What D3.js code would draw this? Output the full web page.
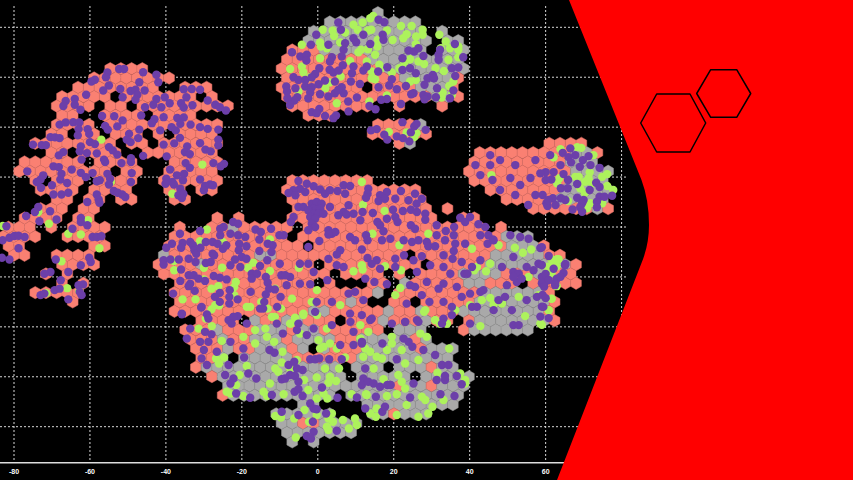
<!DOCTYPE html>
<html><head><meta charset="utf-8"><style>html,body{margin:0;padding:0;background:#000;overflow:hidden}</style>
<script src="https://cdn.jsdelivr.net/npm/d3@7"></script></head><body><svg id="c" width="853" height="480"></svg>
<script>
const xTicks=[-80,-60,-40,-20,0,20,40,60,80];
const yTicks=[80,60,40,20,0,-20,-40,-60,-80];
const hexRows=[
"35g","30-38g","29-39g 41g","28-39g 41-42g","27-29s 30-39g 41-43g","26-33s 34-42g",
"10-13s 26-35s 36-43g","8-15s 26-36s 37-41g 42s","7-14s 17-19s 26-33s 35-38s 39-41g 42s",
"5-9s 11-17s 19s 26-39s 40-41g 42s","5-8s 10-11s 13-21s 27-34s 37s 41s","5-6s 9-12s 14-17s 28-30s",
"5-8s 10-20s 35-38s 39g","4-5s 7-8s 10-12s 14s 16-19s 34-39s","3-10s 12-13s 15-20s 37s 38g 51-54s",
"4-5s 7-10s 13-19s 44-52s 53-54g 55s","2-7s 9-12s 16-20s 44-52s 53-55g","1-9s 11-12s 15-19s 43-52s 53-56g",
"3s 5-7s 9-12s 15-20s 27-34s 44-52s 53-56g","3-6s 8-11s 15-16s 18-19s 26-38s 45-51s 52-56g",
"5-6s 8-9s 11-12s 16-17s 27-39s 47-51s 52-56g","3-5s 7-8s 27-39s 41s 49-54s 55g 56s",
"2-5s 7-8s 20s 22s 27-40s 43-44s","0-2s 4s 6-9s 16s 19-20s 21g 22-26s 28-44s 46s",
"0-3s 6-9s 16-26s 28-46s 47-49g","0-1s 8-9s 15-27s 29-46s 47-49g 50s",
"1-2s 5-8s 15g 16-23s 24-25g 26-37s 39-45s 46-50g 51-52s","5-8s 14-17s 18g 19-28s 30-38s 40-44s 45-52g 53s",
"4s 6s 15-30s 32-35s 37s 39-42s 43-46g 47-49s 50-51g 52-53s","5s 7s 16-28s 30s 34-35s 37g 38-42s 43-44g 45-47s 49-53s",
"3-7s 16-34s 35g 37-44s 45-50g 51s","6s 16-31s 32g 33s 36-37s 39-43s 44-50g 51s",
"16-28s 29-30g 31-35s 36g 37-38s 39g 40-42s 43-50g 51s","18-21s 23g 24-25s 26-27g 28-30s 32-34s 35g 36-38s 39g 40-41s 43s 44-50g 51s",
"17-19s 20g 21-23s 24-26g 27s 28-29g 30-35s 37-39g 43s 44-49g","17-19s 20g 21-22s 23-25g 26s 27-30g 31-32s 33-37g 38s 39g",
"18-20s 21g 22-23s 24-26g 27s 28g 30g 31-33s 34-38g 39s 40-42g","18-19s 20g 22-26g 27-32s 33-41g",
"18s 19-31g 33-35g 37-39g 40s 41-42g","19s 20-31g 33-37g 39-43g","21-36g 37s 38-39g 40s 41-43g",
"20s 21-30g 32-42g","28-29g 34-42g","25-30g 34-35g 36s 37-39g","26-27g 28-29s 30-33g","26-29g 30-32g","27g 29g"
];
const purplePts=[
[-55.4,61.9],[-55.8,60],[-58.7,59],[-59.6,58.3],[-52.3,63.3],[-51,63.3],[-46,62],[-42.5,61],[-42,58],[-47,58],[-52,55.3],[-55,56.7],[-56.5,54.7],[-61,53],[-64,51.3],[-66.4,50.5],[-67,48.5],[-64,49],[-62.5,47],[-51.4,52],[-49.3,54.5],[-48,55],[-47.5,53],[-48,51],[-45.6,54.7],[-42.5,51.3],[-40.3,52],[-43.3,49],[-41.2,48],[-45.5,48],[-39,49.6],[-35.3,55.2],[-33.2,55.3],[-31,55],[-34.6,52],[-36,49.6],[-35.3,47.9],[-33,48.8],[-29,50.7],[-27,49],[-25.8,48],[-24.2,46.7],
[-56.8,44.5],[-53.6,44.4],[-51.4,42.7],[-46.5,44.7],[-43,43.2],[-43.7,41.6],[-40.6,44],[-37,43.7],[-35.3,43.9],[-36.2,41.3],[-33.5,41],[-31,40],[-29,39.3],[-26.2,39],
[-68,41],[-66.4,41.9],[-64.4,42],[-62.8,41.9],[-63,39.2],[-63.2,36.7],[-60.6,39.2],[-60.2,37.3],[-56,40.5],[-55.3,39],[-52.8,40.3],[-49.7,37.3],[-50.3,35],[-49.3,34],[-47.3,35.6],[-47,39],[-41.5,38.7],[-38.5,40],[-37.4,38.7],[-36.3,35.7],[-40.6,33],[-37.8,33.5],[-31,33.6],[-26.2,35],[-26.2,32.7],[-29.6,31],[-28.2,30.3],[-34.4,32.3],[-35,30],[-33.7,29.2],
[-70.4,36],[-69.2,35.9],[-68,35.6],[-75,33],[-72.7,32.8],[-71.6,32.8],[-62.4,32.3],[-60,34],[-58.7,33.2],[-55,32],[-54,30.7],[-52.8,29],[-67,30],[-68.2,28.7],[-62.7,30.3],[-60.8,29.6],[-58.2,29.5],[-62.2,27],[-56.3,27],[-49.2,27.6],[-46,28.5],[-39.8,28.3],
[-69.6,24.3],[-68.2,24],[-64.8,23],[-76.5,22.3],[-72.3,20.7],[-73,19],[-74,18],[-67.5,21.3],[-67.8,19],[-66,17.6],[-70,16.7],[-72.9,15.7],[-69.6,13],[-67.5,13],[-65.7,13.7],[-62.4,21.7],[-61.1,20],[-59.3,21.6],[-58.2,18.3],[-57.4,18.7],[-55.4,21.3],[-54.7,19.3],[-55,17],[-53.7,14.4],[-52.7,13.7],[-51.5,13],[-50.7,12],[-58.2,13],[-57.7,11],[-57.5,9.7],[-60.7,10],[-56,26],[-51.7,25.6],[-49.2,26],[-49,21.6],[-49.2,18],
[-73.6,8],[-74.5,6],[-70.5,6.3],[-76.8,4.4],[-73.3,2.3],[-68.8,3],[-82,0.3],[-83,-5.3],[-81.2,-4.3],[-79.9,-3.6],[-78.8,-3.5],[-77.2,-4],[-78.8,-8.5],[-83.2,-12.3],[-81.2,-13],[-64.6,-0.7],[-62.4,3.6],[-62.4,2],[-60.7,0.7],[-59.3,-4],[-58.1,-4],[-57,-3.7],[-69,-13],[-65.7,-18],[-60.2,-12.3],[-59.8,-14],[-62.4,-15.3],[-70.4,-18],[-72,-18.7],[-67.7,-21.3],[-73,-27.3],[-72,-26.7],[-69.3,-25.3],[-68,-24.7],[-63,-23.3],[-61.8,-23],[-62.7,-26],[-62.2,-27.3],[-65.7,-29],
[-38.9,23],[-37.1,20.7],[-35.2,21.3],[-35.5,18.7],[-39.9,19.3],[-40.1,17.3],[-38.3,18],[-37.9,17],[-36.2,15.3],[-36.7,12.7],[-35.4,13.3],[-35.8,11.6],[-34.8,25.6],[-33.7,23.7],[-27.5,25.6],[-25.6,24.3],[-24.7,25.3],[-31,19],[-28.4,17],[-29.7,16.4],[-30,14.7],[-27.6,16.7],
[-36.3,-2.7],[-31,-1.6],[-25.7,-0.7],[-24.8,0],[-25.7,-3.3],[-22.3,2],[-21,1.3],[-23,-2.7],[-21,-3.3],[-19.1,-4],[-16.4,-1],[-15,-2],[-12.3,-0.7],[-15.4,-5],[-10.1,-3.3],
[-39.9,-8.3],[-38.4,-6.7],[-35.6,-6.4],[-33.6,-6],[-32.9,-7.3],[-29.5,-6],[-27.7,-6],[-26.4,-6.7],[-36,-8.3],[-32.5,-9.3],[-32,-10.7],[-30.9,-8.3],[-27.7,-10.7],[-25,-8.7],[-24.1,-7.3],[-20.7,-6.7],[-20.8,-9.3],[-18.8,-7.7],[-15.4,-9.6],[-13.2,-6.7],[-11.9,-7.3],[-12.2,-10],[-10,-14.7],
[-40.6,-13.3],[-40.6,-15],[-38.8,-13],[-36.6,-13],[-34,-12.7],[-32.2,-14],[-29.5,-14.4],[-28.2,-14],[-27.3,-11.3],[-21.8,-13],[-20,-12],[-18.8,-12.7],[-13.3,-13.3],[-15.2,-15.6],[-36,-17],[-23,-15.3],[-20.4,-16],
[-36.2,-21.6],[-34,-19.3],[-32.7,-19.3],[-31.4,-20.7],[-33.6,-22.7],[-34,-23.7],[-29.7,-21.6],[-27.4,-19.6],[-25.8,-20.3],[-24,-21],[-17.4,-18.7],[-16,-18.7],[-17.4,-20.7],[-13.7,-20],[-13.2,-22.3],[-12.8,-24.7],[-9.6,-19.3],[-11.3,-25],[-9.8,-28],
[-38.1,-26.7],[-32.4,-25.6],[-30.7,-32.3],[-25.8,-26.4],[-23.2,-25.3],[-23.3,-28],[-23.3,-30.7],[-27.1,-28],[-25.8,-30],[-21.1,-29],[-17.7,-26],[-13.7,-27],[-14.1,-30],[-10.7,-32],[-35.8,-35],[-29.2,-35],[-22.2,-36],[-21.1,-35.7],[-14.4,-32.7],
[5.4,81.9],[16,83],[17.5,82],[12,77],[17.1,77],[17.3,75],[6.1,79],[9.4,75.6],[10.1,74],[7.2,73.6],[13.8,73.3],[-0.4,77],[-1.8,73],[2.8,73],[6.8,71],[6.3,68.3],[3.7,68],[3.2,66.3],[6.6,64.8],[-6.8,70],[-4.6,68.3],[-2.9,69],[-3,66.7],[0.4,63.6],[-0.7,61.3],[3.1,63],[4.1,61.9],[5.5,62.7],[9.4,64.3],[9,61.6],[12.9,64.3],[12,62.7],[15.9,62.3],[18.3,64],[-6.4,60],[-5.1,58.9],[-3.3,58.9],[-1.6,60],[1.9,58.7],[4.5,58.3],[8.7,58.3],[11.1,57.3],[-8.3,56.3],[-8.1,54.3],[-5.9,55.6],[-3.3,56.3],[-1.6,56],[0.2,57.2],[-2,53.9],[-2.5,51.6],[-5.4,52],[-6.2,50.7],[-8,51.6],[-7.3,48.9],[0.6,53.2],[2.8,52.3],[4.5,53.6],[6.3,56],[6.8,53.6],[5.4,55],[8,50.3],[10.3,51.9],[16,56],[18.8,56.7],[20.8,55.2],[19.5,59.2],[23.2,56.5],[8.1,46.3],[-1.6,46],[0.4,47.3],[-0.3,45.6],[1.9,44.5],[4.1,43.6],[4.8,44.7],[13.6,48.5],[15.2,47.2],[16.7,51],[18.2,51.3],[21.9,49.3],[25.2,53.6],[24.6,53.2],[27.8,52.9],[28.9,52.3],[28.1,51.2],[31.1,52],[31.4,55.6],[35.7,54.7],[34.8,51.6],[28.1,57],[28.9,59.6],[30.3,60.9],[30.6,59.6],[24.3,63.6],[25.8,61.6],[22.3,62.9],[22.3,67.6],[35.3,63.6],[37,63.9],[36.2,60.5],[23.9,70.7],[25.4,70.3],[26.5,71.6],[27.8,68.5],[31.8,69],[31.8,67],[32.2,71],[36.1,73.3],[38.3,68],
[14,38.7],[15.5,39.2],[22.3,42],[24.5,37.9],[25.4,40.3],[26,41.3],[28.4,38.9],[17.5,37],[18.3,35],[20.8,36.3],[22.4,35.6],[24.1,34.3],
[-5.1,18.4],[-2.9,17.3],[-1.1,16.3],[0.6,15],[-4.7,15.3],[-6.4,14.7],[-7.7,13.6],[-5.9,12.7],[-3.3,14],[1.9,13.3],[3.2,14.7],[5.2,14.4],[6.8,16.7],[8.5,16.4],[7.2,13.3],[13.3,15.3],[13.1,13.3],[12.7,11.7],[18.2,14],[16.4,12.7],[16,10.4],[17.7,11.3],[20.4,11.3],[21.9,14.4],[25.6,13.3],[23.9,10.7],[27.4,11.3],[26,9.3],[-5.1,8],[-3.8,8],[-1.6,9.3],[-.3,10],[1,9.3],[-1.1,7.3],[.6,7.3],[-2.5,6.7],[-1.1,5.3],[.2,5.3],[1.5,5.3],[-2,4],[-.7,3.3],[-1.6,1.3],[-.7,0],[-2.5,-1.3],[3.2,8],[8.1,8.7],[6.8,6],[5.4,4.7],[7.6,5],[9.4,5.3],[11.8,6],[14.5,5.6],[11.2,2.7],[15.7,2],[16.4,.7],[19.8,6.9],[22.4,6.4],[24.5,6.9],[26.1,6],[28.3,5.3],[18.2,3.3],[20.4,4],[21,2],[24.5,.7],[25.6,-.7],[28.3,2.9],[31.3,.7],[33.7,-1.6],[35.9,0],[37.5,3.7],[40.1,4],[38.8,2],[42.3,1.1],[44.1,0],[-6.4,4],[-7.1,2],[-9,-3.3],[2.8,-1.3],[3.7,-2.7],[4.6,-2],[2.8,-3],[.4,-5.6],[-2.5,-8],[8.5,-4],[9.8,-5.3],[11.6,-9],[12.7,-3.3],[13.1,-5.3],[17.3,-1.7],[16.9,-5.3],[19.1,-4.7],[22.6,-5.3],[24.8,-6],[26.5,-5.3],[28.7,-6],[29.1,-7.7],[30.9,-7.7],[31.3,-3.3],[33.5,-5.3],[35.8,-3.3],[36.2,-6.7],[38.8,-6.7],[35.8,-9.6],[42.8,-3.3],[44.9,-3.3],[46.1,-5],[44.7,-6.7],[58.6,-8.4],
[5.9,-9.3],[5,-11],[2.8,-12.8],[13.1,-12.4],[15.5,-13.3],[20.4,-12.7],[22.7,-11.3],[25.2,-13.3],[26.1,-18],[27.4,-11.7],[29.6,-15.3],[33.1,-11.3],[35.5,-12.7],[37.9,-14],[42.8,-13.3],[40.6,-16],[38.6,-18.7],[33.1,-16],[34.9,-18.7],[20.4,-16],[16.4,-16.7],[14.2,-14.7],[12.5,-20.7],[14.9,-22],[18.2,-22.9],[6.8,-16],[5,-15.3],[2.5,-21.3],[-1.1,-18],[-2.5,-14.7],[-4.7,-14.7],[-7.3,-20],[-8.6,-19.3],[-4.7,-22.7],[-2,-22.9],[-8.2,-23.3],[24.3,-23.3],[25.6,-24],[28.7,-22],[33.1,-22.7],[31.8,-24.7],[27.4,-27.3],[23.4,-30.7],[29.4,-30],[33.1,-30],[35.3,-32],[36.6,-24],[37.9,-28],[40.6,-32],[8.1,-26.7],[9.8,-26],[12,-29.3],[3.7,-30],[-.3,-30],[8.6,-38],[11.6,-35.3],[13.8,-37.3],[23,-38],[26.1,-37.3],[33.1,-36.7],[35.3,-35.3],[40.1,-38.7],[-.7,-34],
[50.7,-3.3],[53.3,-4],[55.5,-4.7],[51.5,-12],[48.5,-16],[51.5,-18],[52.9,-18.7],[55,-16],[58.1,-14.7],[56.8,-17.3],[52.4,-22],[53.7,-20.7],[59,-20],[59.9,-22],[62.9,-20.7],[65.1,-15.3],[64.7,-18.4],[62.5,-23.3],[62.1,-16.7],[46.3,-5.3],[49.8,-23.3],[51.5,-20],[49.3,-28],[47.6,-29.3],[43.6,-25.3],[42.8,-26],[46.3,-33.3],[51.1,-33.3],[57.7,-28],[55,-29.3],[59.4,-32],[51.5,-39.3],[52.9,-39.3],[40.1,-26.7],[39.4,-18.7],[41.9,-32],
[-30.6,-32],[-28.8,-36.7],[-35.8,-34.7],[-33.6,-40.7],[-29.7,-42],[-28,-43],[-34.5,-44.7],[-31,-46],[-28.8,-46],[-23.5,-37.3],[-22.2,-36],[-22.7,-38.7],[-23,-46],[-30,-49.3],[-26.6,-50],[-30.6,-52.7],[-29.2,-55.3],[-23.5,-55.3],[-19.6,-48.7],[-19.4,-52.3],[-18.7,-38.7],[-15.2,-32.7],[-10.8,-38.7],[-12.7,-49.3],[-11.4,-50.4],[-9.2,-42.7],[-2.9,-43.3],[-1.1,-40.7],[-5.1,-38.7],[-7.7,-55.3],[-6.2,-54],[-5.5,-56.7],[-7.3,-59.3],[-9.5,-61],[-8.6,-60.7],[-6,-59.7],[-4,-57.3],[-22.2,-60.7],[-23,-62.7],[-24.4,-59.3],[-18.3,-58.7],[-16.2,-60.7],[-21.5,-66.7],[-17.8,-68.4],[-12.1,-67.3],[-6.1,-66],[-5.1,-65],[-5.1,-62],[-4,-67.7],[1.1,-64.3],[5.2,-68.4],[5.9,-47.3],[9.4,-47.3],[11.6,-46.7],[-2,-53],[-.7,-53],[.4,-52.7],[3,-53],[6.3,-53],[10.3,-68.3],[11.6,-46],[12,-60.7],[11.6,-63.3],[13.3,-62],[14.7,-62.7],[16.4,-64],[18.3,-63.3],[19.2,-63.3],[12.5,-56.7],[20.8,-53],[22.6,-44.7],[23.9,-46],[24.9,-48],[27.8,-49.3],[30.9,-51.3],[32.7,-55.3],[34.4,-55.3],[31.3,-61.3],[33.5,-61.3],[33.5,-59.7],[36.6,-59.7],[37.9,-63],[32.3,-67],[36,-67.7],[25.2,-62.7],[24.3,-68.3],[15.3,-68],[12.5,-72.7],[17,-74],[17.7,-72],[-9.5,-74],[-5.1,-75.3],[-2,-70.7],[-1.1,-72.7],[-.3,-73],[2.2,-74.7],[-1.3,-78],[-1.1,-82],[-2.9,-83.7],[-1.8,-84.7],[5,-81.6],[-5.5,-41.3],[3.7,-39.3],[9.4,-42],[17,-46.7],[26.5,-38],[23,-38],[19.5,-38.7],[8.5,-34.7],[14.2,-36.7],[32.7,-38.7],
[64.5,29.7],[66.5,31.5],[67.8,28.8],[66,28],[66.7,25.9],[71.3,28.4],[69.8,26.8],[69,24.1],[71.8,24.8],[74.2,23.7],[63.9,24.8],[60,22],[62.1,22],[61.5,19],[64.7,21.2],[65.9,18.8],[68.3,17.2],[64,15.5],[65.8,15.5],[71.6,14.8],[73.3,17.7],[74.2,16],[59.2,12.8],[61.9,11.5],[64,11.5],[65.2,10.8],[68.3,11.7],[70,10.8],[69.6,9.5],[74.2,12.1],[75.5,12.1],[77.5,12.5],[73.5,10.1],[73.5,7.9],[69.1,7.9],[69.6,6.1],[67.1,7],[60.2,9.5],[60.5,8.4],[58.6,21.5],
[45.4,28.8],[48,26.8],[52,24.8],[45.4,24.8],[57.3,26.8],[61.2,28.8],[42.8,20.8],[46,18.8],[50.7,19.6],[53.3,16.8],[56,19.6],[60,18.8],[48,14.8],[52,12.8],[57.3,12.8],[60.7,10.8],[62.6,8.8],[41.5,24.8],[55.4,8.8],
[60.8,-11.6],[59,-15.2],[60,-18.8],[65.2,-14.8],[63.9,-19.9],[62.5,-22.5],[59,-22.5],[60.8,-21.2],[59.6,-23.9],[59.2,-27.2],[60,-28.5],[59,-31.9],[60.8,-36.5],[58.6,-35.9],[59,-8.1]
];
const greenPts=[
[-57,35],[-73.6,6],[-70.8,1.3],[-60.5,2.7],[-65.7,-2.7],[-62.4,-3],[-57.5,-8.5],[-67.5,-13.7],[-66,-24.5],[-71.5,-26.5],[-62.8,-25.7],[-83,0.4],[-54.5,18],[-30.4,25],[-38.3,13.3],
[-31,-5.7],[-29.2,-1],[-25,-6],[-12.6,-5],[-37.9,-13.6],[-37.8,-17.3],[-30,-16.3],[-25.2,-16.3],[-18.4,-16.3],[-17,-14.3],[-12.6,-17.6],[-21.6,-22],[-22,-24],[-28,-24.7],[-26.2,-23.7],[-11.2,-24.7],[-30,-21],[-35.6,-29],[-32.2,-29],[-26,-31.5],[-17.8,-32],[-22,-27.3],[-14.9,-30],[-13.2,-32.7],[-9.7,-32.7],[-11.3,-36],[-28,-33],[-29.5,-36.7],
[14.6,84.5],[13.8,83.6],[11.8,81.9],[9.4,81],[10.5,79],[1.3,79],[3.9,78.7],[4.3,76.5],[7.2,77.9],[13.2,78.7],[14.1,79],[18.2,78.7],[21.9,80.5],[24.7,80.5],[27.6,79],[27.6,77],[25.9,76.3],[23.4,77.2],[22.5,75.6],[19.7,74.9],[32,77],[33.7,74.3],[32.4,71.6],[34.8,71.6],[37,72.3],[37,71],[15.8,75],[15.7,72.3],[11.4,71],[13.2,71.2],[10.7,70],[-4.2,73],[0.6,73.9],[0.8,72.3],[2.4,71.6],[5.9,73.9],[7.2,73.3],[15.1,69],[0.6,67.6],[8.5,66.5],[12.9,66.3],[25.8,73.2],[24.3,67.2],[22.8,65.9],[26.5,66.3],[28,65.3],[34.4,67],[37,68],[31,63.6],[33.2,62.5],[16.2,65],[16.7,63.6],[19.5,61.9],[21.5,63.6],[-7.3,63.3],[-4.2,64.3],[-3.8,62],[-2,60],[6,60.3],[3.1,57.9],[14.2,62.3],[14.2,59.6],[15.1,59.2],[24.3,58.3],[25.8,58.9],[-5.1,54.3],[2,55.6],[5,49.6],[13.6,50.3],[18.2,52.7],[34.6,56.5],[35.7,58.3],[32.9,53.9],[32.6,51.9],[35.3,53],[25.4,36],[26,37.6],[23.4,37.9],[18.7,38.1],
[11.6,18],[11.9,8.9],[17.6,6.4],[14.4,-2.7],[29.1,-2.7],[21.5,-7.3],[40.6,-8.7],[47.6,-7.3],[51.9,-8.3],[54,-10.3],[56.2,-9],[11.6,-15.3],[11.8,-17],[9.4,-17.7],[17.7,-15.7],[21.9,-17.3],[-5,-16.3],[-.2,-25.3],[21.7,-24.4],[20.4,-27.3],[41.2,-17.3],[41.9,-16],[44.3,-17.7],[45.4,-14.7],[40.1,-31.3],[43.2,-29.3],[45.4,-28.4],[46.3,-31],[48.5,-30.7],[52.9,-28],[58.1,-27.3],[61,-16],[62.1,-13.3],[63.4,-12.9],[62.9,-15.7],[61.6,-18.4],[55.5,-20],[62.9,-23.7],[61.6,-28.7],[60.8,-33.3],[54.6,-35.7],[58.6,-38.7],[42.8,-39.7],[36.2,-33.3],[30.9,-37.3],[32.2,-38.7],[34,-38.7],[28,-34],[11.2,-39.3],[-.2,-35.3],[-3.8,-35.3],[-5.9,-36.7],[-7.1,-38.7],[-6.8,-28.7],[-1.6,-30],[5.9,-31.3],
[-31.4,-40.7],[-27.9,-39.7],[-25.3,-45.6],[-19.6,-44],[-16.5,-46.7],[-26.8,-52.7],[-24.7,-52.3],[-26,-54.7],[-18.7,-55.7],[-20.6,-59.3],[-21.5,-63.3],[-24,-66],[-23,-66.7],[-19.6,-67.7],[-14.3,-66],[-13.4,-67.7],[-12.6,-62.7],[-11.2,-56.7],[-10.4,-58],[-9.5,-54.3],[-9.3,-50],[-13.4,-44],[-13.8,-40.7],[-11.5,-46],[-16.5,-41.3],[-12.1,-36],[-7.3,-38.7],[-6,-36.3],[-3.8,-34.7],[-4.7,-42.7],[2.4,-40.7],[.2,-45.3],[1.5,-48],[3.2,-46.7],[.6,-48.7],[5,-48.7],[7.2,-52.3],[-5.5,-53.3],[-7.3,-56.7],[-.3,-60.3],[-3.6,-61.3],[1.9,-56.7],[5.6,-56.7],[3.2,-60],[2.8,-62.4],[4.8,-61.7],[-2.5,-65.3],[-9,-67],[1.5,-66.7],[2.5,-68.7],[-.3,-68.7],[8.9,-67],[12.7,-67],[18.2,-67.7],[20.8,-67],[23.4,-71.3],[27.4,-68],[28.3,-69.3],[30.2,-72],[29.1,-74.7],[33.1,-69.3],[26.5,-76],[20.8,-75.3],[15.5,-72.7],[13.8,-74.7],[15.3,-76],[-11.2,-75.7],[-9.7,-76.3],[-6.2,-76.7],[-3.5,-73.3],[-2.3,-78],[-.3,-75.3],[3.7,-74.7],[2.8,-76.7],[4,-78],[2.4,-80],[2.8,-81.3],[6.6,-77.3],[9.8,-76.7],[8.2,-80.7],[10.3,-79.3],[-5.8,-84.3],[12.5,-48.7],[13.8,-50],[12,-52],[15.5,-52],[16.9,-52.7],[14.7,-56.7],[18.2,-49.3],[22.1,-49.3],[21.2,-59.3],[23,-54.7],[26.5,-53.3],[22.1,-62],[23,-64.7],[17.3,-61],[12.9,-67.3],[28.7,-44],[27,-42.7],[19.5,-44],[19.5,-46.7],[34.6,-48.7],[31.5,-58.4],[37.5,-58.7],[38.8,-61.3],[38.8,-62.7],[28.3,-33.3],[30.9,-37.3],[32.2,-38.7],[34,-38.7],[13.3,-42],[11.2,-44.7],[-18.7,-32],[-27,-31.3],
[68.3,32],[69.4,31.7],[62.1,27.9],[63.9,31.2],[72.6,28.8],[71.6,21.9],[67.8,20.1],[68.7,20.1],[70.4,18.1],[71.3,19.5],[72.2,17.5],[76.2,21.2],[74.9,20.1],[76.2,16.4],[77.8,14.8],[70.3,13.7],[69.1,15.5],[63,17.5],[63.6,19.5],[65.9,10.4],[70.9,7.5],[74.9,9.5],[71.8,9.5],[45.7,20.8],[62,28],
[61.5,-12.9],[63,-12.9],[60.5,-15.9],[62.7,-15.9],[61.5,-17.9],[62.8,-23.6],[61.5,-28.8],[60.8,-33.5],[59,-39.2]
];
const W=853,H=480;
const x=d3.scaleLinear().domain([-80,80]).range([14,621.6]);
const y=d3.scaleLinear().domain([-80,80]).range([426.7,27.3]);
const binW=2.82,binH=3.738,binX0=-82.87,binY0=85.86;
const cells=[];
hexRows.forEach((row,r)=>row.split(" ").forEach(tok=>{
  const m=tok.match(/^(\d+)(?:-(\d+))?([sg])$/);
  const a=+m[1],b=m[2]?+m[2]:a;
  for(let n=a;n<=b;n++)cells.push({x:binX0+binW*(n+(r%2?0.5:0)),y:binY0-binH*r,t:m[3]});
}));
const svg=d3.select("#c");
svg.append("rect").attr("width",W).attr("height",H).attr("fill","#000");
const grid=svg.append("g").attr("stroke","#fff").attr("stroke-width",1).attr("stroke-dasharray","2 2").attr("opacity",.85);
grid.selectAll(".v").data(xTicks).join("line").attr("x1",d=>x(d)).attr("x2",d=>x(d)).attr("y1",6).attr("y2",461);
grid.selectAll(".h").data(yTicks).join("line").attr("x1",0).attr("x2",626).attr("y1",d=>y(d)).attr("y2",d=>y(d));
const R=6.18,hexPath=d3.range(6).map(i=>{const a=Math.PI/3*i+Math.PI/6;return [R*Math.cos(a),R*Math.sin(a)]});
const hp="M"+hexPath.map(p=>p.join(",")).join("L")+"Z";
svg.append("g").selectAll("path").data(cells).join("path").attr("d",hp)
 .attr("transform",d=>`translate(${x(d.x)},${y(d.y)})`)
 .attr("fill",d=>d.t=="s"?"#fa8072":"#a9a9a9").attr("stroke",d=>d.t=="s"?"#e0736a":"#999").attr("stroke-width",.5);
svg.append("g").attr("fill","#adf25c").selectAll("circle").data(greenPts).join("circle").attr("cx",d=>x(d[0])).attr("cy",d=>y(d[1])).attr("r",4.2);
svg.append("g").attr("fill","#6c3fa9").selectAll("circle").data(purplePts).join("circle").attr("cx",d=>x(d[0])).attr("cy",d=>y(d[1])).attr("r",4.2);
svg.append("line").attr("x1",0).attr("x2",570).attr("y1",462.7).attr("y2",462.7).attr("stroke","#ddd").attr("stroke-width",1.5);
svg.append("g").attr("opacity",.99).selectAll("text").data(xTicks.slice(0,8)).join("text").attr("x",d=>x(d)).attr("y",474)
 .attr("text-anchor","middle").attr("fill","#fff").attr("font-family","Liberation Sans").attr("font-weight","bold").attr("font-size",7).text(d=>d);
svg.append("path").attr("fill","#f00").attr("d","M569,0 L641.5,180 Q649,200 649,225 Q649,245 641.5,263 L557,480 L853,480 L853,0 Z");
const dec=svg.append("g").attr("fill","none").attr("stroke","#000").attr("stroke-width",1.5).attr("stroke-linejoin","round");
dec.append("path").attr("d","M656.7,94 L690,94 L705.7,123 L690,152 L656.7,152 L640.7,123 Z");
dec.append("path").attr("d","M710.7,69.7 L736.7,69.7 L750.7,93.5 L736.7,117.3 L710.7,117.3 L696.7,93.5 Z");
</script></body></html>
